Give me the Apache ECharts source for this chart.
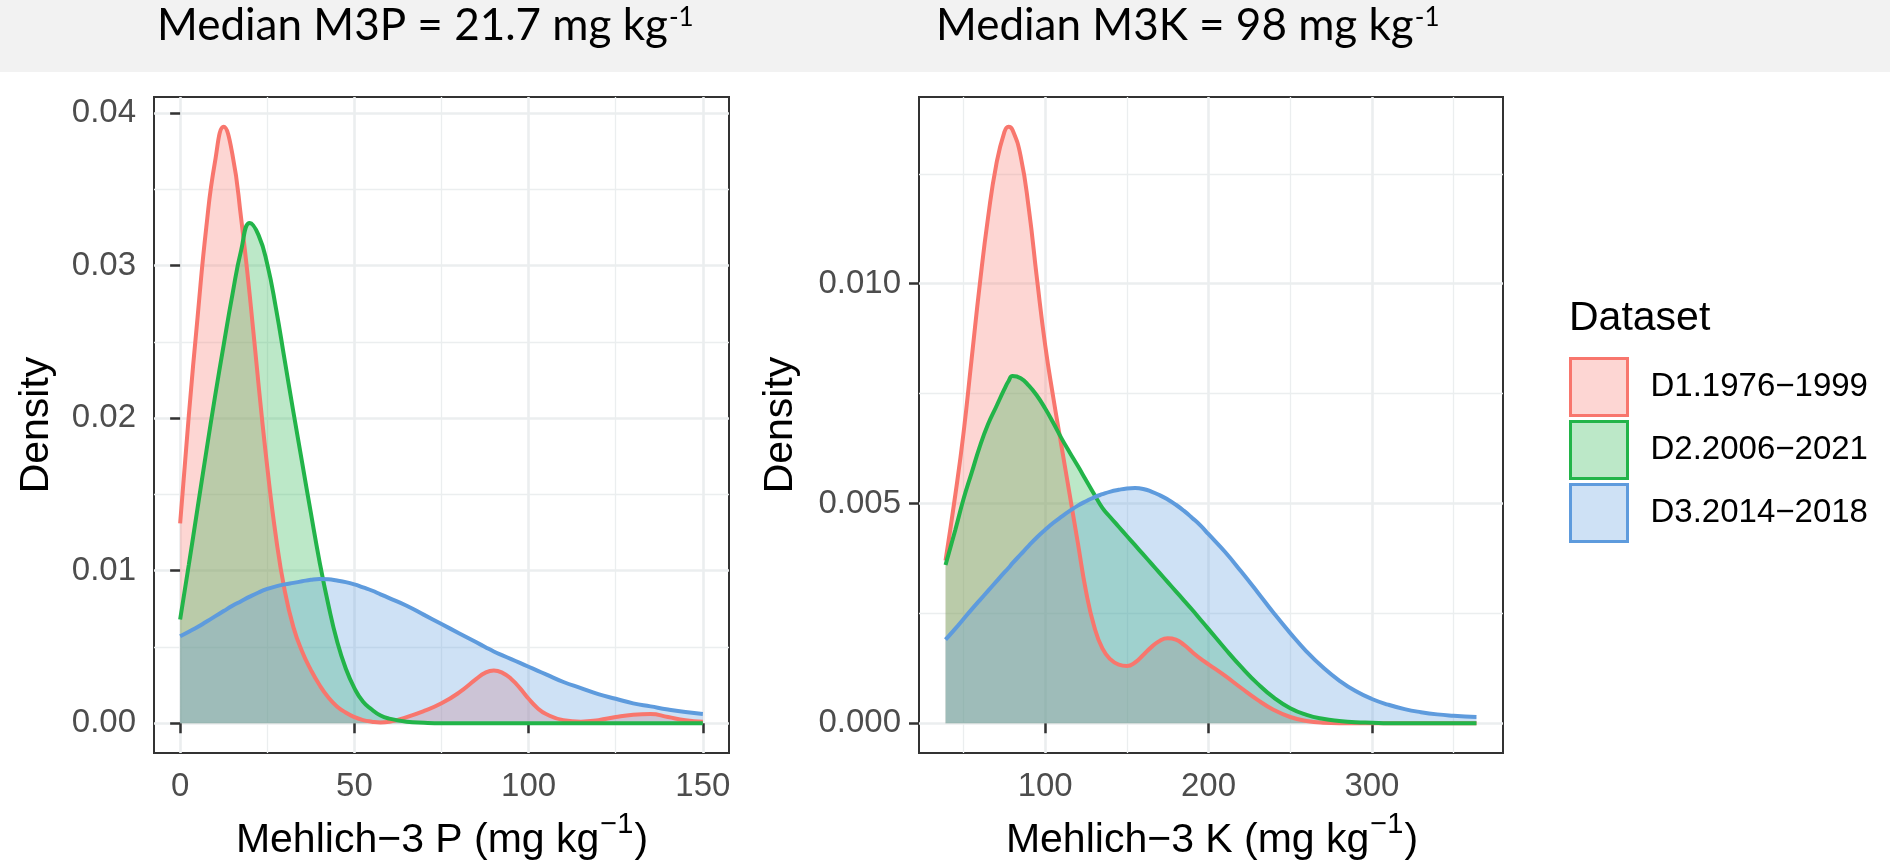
<!DOCTYPE html>
<html>
<head>
<meta charset="utf-8">
<script src="https://cdn.jsdelivr.net/npm/echarts@6/dist/echarts.min.js"></script>
<style>
  html, body { margin: 0; padding: 0; background: #fff; }
  #chart { width: 1890px; height: 864px; }
</style>
</head>
<body>
<div id="chart"></div>
<script>
// legend names
const seriesNames = ['D1.1976−1999', 'D2.2006−2021', 'D3.2014−2018'];

// Mehlich-3 P panel (x in mg/kg, density)
const pGrid = [0, 2.5, 5, 7.5, 10, 12.5, 15, 17.5, 20, 22.5, 25, 27.5, 30, 32.5, 35, 37.5, 40, 42.5, 45, 47.5,
  50, 52.5, 55, 57.5, 60, 65, 70, 75, 80, 85, 87.5, 90, 92.5, 95, 97.5, 100, 102.5, 105, 110, 115,
  120, 125, 130, 135, 140, 145, 150];
const d1P = [0.0131, 0.0202, 0.0266, 0.0325, 0.0368, 0.0391, 0.0373, 0.0331, 0.0280, 0.0222,
  0.0168, 0.0122, 0.0087, 0.0063, 0.0047, 0.0035, 0.0025, 0.0017, 0.0011, 0.0007,
  0.0004, 0.0002, 0.0001, 0.00005, 0.0001, 0.0004, 0.0008, 0.0013, 0.0020, 0.0029,
  0.0033, 0.00345, 0.0033, 0.0029, 0.0023, 0.0016, 0.0010, 0.0006, 0.0002, 0.0001,
  0.0002, 0.0004, 0.00055, 0.0006, 0.0004, 0.0002, 0.0001];
const d2P = [0.0068, 0.0104, 0.0141, 0.0178, 0.0214, 0.0248, 0.0281, 0.0310, 0.0328, 0.0320,
  0.0301, 0.0272, 0.0238, 0.0204, 0.0171, 0.0138, 0.0106, 0.0078, 0.0054, 0.0036,
  0.0023, 0.0014, 0.0009, 0.0005, 0.0003, 0.0001, 0.00003, 0, 0, 0,
  0, 0, 0, 0, 0, 0, 0, 0, 0, 0,
  0, 0, 0, 0, 0, 0, 0];
const d3P = [0.0057, 0.0060, 0.0063, 0.00665, 0.0070, 0.00735, 0.0077, 0.0080, 0.0083, 0.00857,
  0.0088, 0.00897, 0.0091, 0.0092, 0.0093, 0.0094, 0.00945, 0.00943, 0.00935, 0.00925,
  0.0091, 0.0089, 0.0087, 0.00845, 0.0082, 0.0077, 0.0071, 0.0065, 0.0059, 0.0053,
  0.0050, 0.0047, 0.00445, 0.0042, 0.00395, 0.0037, 0.00345, 0.0032, 0.0027, 0.0023,
  0.0019, 0.0016, 0.0013, 0.0011, 0.0009, 0.00073, 0.0006];

// Mehlich-3 K panel
const kGrid = [39, 45, 50, 55, 60, 65, 70, 75, 77.5, 80, 85, 90, 95, 100, 105, 110, 115, 120, 125, 130, 135,
  140, 145, 150, 155, 160, 165, 170, 175, 180, 185, 190, 195, 200, 210, 220, 230, 240, 250, 260, 270,
  280, 290, 300, 310, 320, 330, 340, 350, 364];
const d1K = [0.0037, 0.0052, 0.0066, 0.0083, 0.0100, 0.0115, 0.0127, 0.01345, 0.01357, 0.0135, 0.0129,
  0.0117, 0.0101, 0.0086, 0.0074, 0.0063, 0.0052, 0.0041, 0.0030, 0.0022, 0.0017,
  0.00145, 0.00133, 0.0013, 0.00138, 0.00155, 0.00173, 0.00187, 0.00193, 0.0019, 0.00178,
  0.00162, 0.00147, 0.00134, 0.00108, 0.0008, 0.00053, 0.0003, 0.00014, 0.00005, 0.00001,
  0, 0, 0, 0, 0, 0, 0, 0, 0];
const d2K = [0.0036, 0.0044, 0.0051, 0.0057, 0.0063, 0.0068, 0.0072, 0.0076, 0.00778, 0.0079, 0.00785,
  0.00768, 0.00745, 0.00716, 0.00683, 0.00648, 0.00616, 0.00585, 0.00553, 0.00521, 0.0049,
  0.00468, 0.00447, 0.00426, 0.00405, 0.00384, 0.00363, 0.00342, 0.00321, 0.0030, 0.00279,
  0.00258, 0.00236, 0.00214, 0.0017, 0.00128, 0.0009, 0.00058, 0.00034, 0.00019, 0.0001,
  0.00005, 0.00002, 0.00001, 0, 0, 0, 0, 0, 0];
const d3K = [0.0019, 0.00215, 0.00237, 0.00259, 0.0028, 0.00301, 0.00322, 0.00343, 0.00353, 0.00364, 0.00384,
  0.00404, 0.00423, 0.0044, 0.00456, 0.0047, 0.00483, 0.00495, 0.00505, 0.00514, 0.00521,
  0.00527, 0.00531, 0.00534, 0.00535, 0.00533, 0.00527, 0.00519, 0.00509, 0.00497, 0.00483,
  0.00467, 0.0045, 0.0043, 0.0039, 0.00345, 0.00298, 0.0025, 0.00205, 0.00163, 0.00127,
  0.00097, 0.00073, 0.00055, 0.00042, 0.00032, 0.00025, 0.0002, 0.00017, 0.00014];

// ticks
const pTicks = [0, 50, 100, 150];
const pMinor = [25, 75, 125];
const pDensTicks = [0, 0.01, 0.02, 0.03, 0.04];
const pDensMinor = [0.005, 0.015, 0.025, 0.035];
const kTicks = [100, 200, 300];
const kMinor = [50, 150, 250, 350];
const kDensTicks = [0, 0.005, 0.010];
const kDensMinor = [0.0025, 0.0075, 0.0125];

const colors = [
  { line: '#F8766D', fill: '#F8766D' },
  { line: '#22B449', fill: '#22B449' },
  { line: '#5E9BDD', fill: '#5E9BDD' }
];

const AXIS_FONT = 'Liberation Sans';
const TITLE_FONT = 'Lato';
const GRID_COL = '#EBEEEF';
const INK = '#333333';

const ctx = document.createElement('canvas').getContext('2d');
function measure(txt, size, family) {
  ctx.font = size + 'px "' + family + '"';
  return ctx.measureText(txt).width;
}
function hexRgb(h) {
  const n = parseInt(h.slice(1), 16);
  return [(n >> 16) & 255, (n >> 8) & 255, n & 255].join(',');
}

function majorX(gridIndex, min, max, ticks) {
  return {
    type: 'value', gridIndex, min, max, position: 'bottom',
    axisLine: { show: false },
    axisTick: { show: true, length: 10, customValues: ticks, lineStyle: { color: INK, width: 2.5 } },
    axisLabel: { customValues: ticks, margin: 17, color: '#4D4D4D', fontSize: 33, fontFamily: AXIS_FONT },
    splitLine: { show: true, lineStyle: { color: GRID_COL, width: 2.6 } }
  };
}
function minorAxis(gridIndex, min, max, ticks, pos) {
  return {
    type: 'value', gridIndex, min, max, position: pos,
    axisLine: { show: false },
    axisTick: { show: false, customValues: ticks },
    axisLabel: { show: false, customValues: ticks },
    splitLine: { show: true, lineStyle: { color: GRID_COL, width: 1.3 } }
  };
}
function majorY(gridIndex, min, max, ticks, digits) {
  return {
    type: 'value', gridIndex, min, max, position: 'left',
    axisLine: { show: false },
    axisTick: { show: true, length: 10, customValues: ticks, lineStyle: { color: INK, width: 2.5 } },
    axisLabel: {
      customValues: ticks, margin: 18, color: '#4D4D4D', fontSize: 33, fontFamily: AXIS_FONT,
      formatter: v => v.toFixed(digits)
    },
    splitLine: { show: true, lineStyle: { color: GRID_COL, width: 2.6 } }
  };
}

function densitySeries(idx, xs, ys, panel) {
  return {
    type: 'line',
    name: seriesNames[idx],
    xAxisIndex: panel * 2,
    yAxisIndex: panel * 2,
    data: xs.map((x, i) => [x, ys[i]]),
    symbol: 'none',
    showSymbol: false,
    smooth: 0.5,
    silent: true,
    lineStyle: { color: colors[idx].line, width: 4 },
    itemStyle: { color: colors[idx].line },
    areaStyle: { color: colors[idx].fill, opacity: 0.3 },
    emphasis: { disabled: true }
  };
}

// text with superscript, built from pieces
function supText(x0, ym, main, sup, tail, size, supSize, supRise, family, color, centered) {
  const w1 = measure(main, size, family);
  const ws = measure(sup, supSize, family);
  const w3 = tail ? measure(tail, size, family) : 0;
  const left = centered ? x0 - (w1 + ws + w3) / 2 : x0;
  const base = { fontFamily: family, fill: color, align: 'left', verticalAlign: 'middle',
    textAlign: 'left', textVerticalAlign: 'middle' };
  const out = [
    { type: 'text', x: left, y: ym, style: Object.assign({ text: main, fontSize: size }, base) },
    { type: 'text', x: left + w1 + 1, y: ym - supRise, style: Object.assign({ text: sup, fontSize: supSize }, base) }
  ];
  if (tail) {
    out.push({ type: 'text', x: left + w1 + ws + 2, y: ym, style: Object.assign({ text: tail, fontSize: size }, base) });
  }
  return out;
}

const titleSize = Math.round(44 * 508 / measure('Median M3P = 21.7 mg kg', 44, TITLE_FONT));

const graphics = [
  { type: 'rect', left: 0, top: 0, shape: { width: 1890, height: 72 }, style: { fill: '#F2F2F2' }, z: -10 },
  ...supText(157, 26, 'Median M3P = 21.7 mg kg', '-1', '', titleSize, 26, 8, TITLE_FONT, '#000', false),
  ...supText(936, 26, 'Median M3K = 98 mg kg', '-1', '', titleSize, 26, 8, TITLE_FONT, '#000', false),
  ...supText(441, 841, 'Mehlich−3 P (mg kg', '−1', ')', 41, 29, 16, AXIS_FONT, '#000', true),
  ...supText(1211, 841, 'Mehlich−3 K (mg kg', '−1', ')', 41, 29, 16, AXIS_FONT, '#000', true),
  { type: 'text', x: 37, y: 425, rotation: Math.PI / 2,
    style: { text: 'Density', fontSize: 41, fontFamily: AXIS_FONT, fill: '#000',
      align: 'center', verticalAlign: 'middle', textAlign: 'center', textVerticalAlign: 'middle' } },
  { type: 'text', x: 781, y: 425, rotation: Math.PI / 2,
    style: { text: 'Density', fontSize: 41, fontFamily: AXIS_FONT, fill: '#000',
      align: 'center', verticalAlign: 'middle', textAlign: 'center', textVerticalAlign: 'middle' } },
  { type: 'text', x: 1569, y: 319,
    style: { text: 'Dataset', fontSize: 41, fontFamily: AXIS_FONT, fill: '#000',
      align: 'left', verticalAlign: 'middle', textAlign: 'left', textVerticalAlign: 'middle' } }
];

const chart = echarts.init(document.getElementById('chart'), null, { renderer: 'canvas' });

chart.setOption({
  animation: false,
  backgroundColor: '#fff',
  grid: [
    { left: 154, top: 97, width: 575, height: 656, show: true, borderColor: INK, borderWidth: 2,
      backgroundColor: 'transparent', outerBoundsMode: 'none', containLabel: false },
    { left: 919, top: 97, width: 584, height: 656, show: true, borderColor: INK, borderWidth: 2,
      backgroundColor: 'transparent', outerBoundsMode: 'none', containLabel: false }
  ],
  xAxis: [
    majorX(0, -7.5, 157.5, pTicks),
    minorAxis(0, -7.5, 157.5, pMinor, 'top'),
    majorX(1, 22.75, 380.25, kTicks),
    minorAxis(1, 22.75, 380.25, kMinor, 'top')
  ],
  yAxis: [
    majorY(0, -0.001955, 0.041055, pDensTicks, 2),
    minorAxis(0, -0.001955, 0.041055, pDensMinor, 'right'),
    majorY(1, -0.000679, 0.014249, kDensTicks, 3),
    minorAxis(1, -0.000679, 0.014249, kDensMinor, 'right')
  ],
  legend: {
    orient: 'vertical',
    left: 1569,
    top: 357,
    padding: 0,
    itemWidth: 57,
    itemHeight: 57,
    itemGap: 3,
    selectedMode: false,
    icon: 'rect',
    textStyle: { fontSize: 33, fontFamily: AXIS_FONT, color: '#000', padding: [0, 0, 0, 18] },
    data: seriesNames.map((n, i) => ({
      name: n,
      icon: 'rect',
      itemStyle: { color: 'rgba(' + hexRgb(colors[i].fill) + ',0.3)', borderColor: colors[i].line, borderWidth: 3, opacity: 1 }
    }))
  },
  graphic: graphics,
  series: [
    densitySeries(0, pGrid, d1P, 0),
    densitySeries(1, pGrid, d2P, 0),
    densitySeries(2, pGrid, d3P, 0),
    densitySeries(0, kGrid, d1K, 1),
    densitySeries(1, kGrid, d2K, 1),
    densitySeries(2, kGrid, d3K, 1)
  ]
});
</script>
</body>
</html>
